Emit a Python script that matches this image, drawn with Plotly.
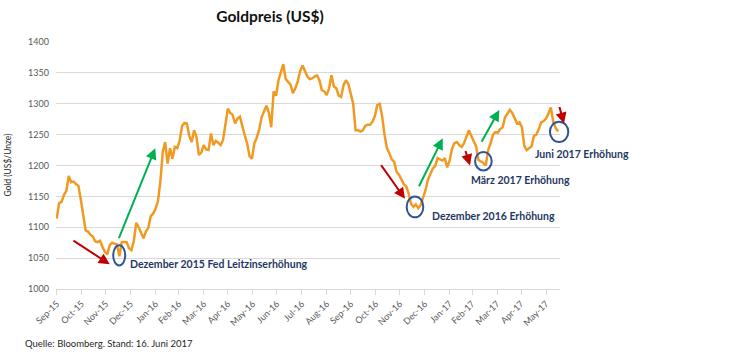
import pandas as pd
import plotly.graph_objects as go

# Gold price (US$/oz), sampled every 3 days from 1 Oct 2015 to 16 Jun 2017
start_date = "2015-10-01"
gold = [
    1114, 1139, 1141, 1152, 1159, 1183, 1173, 1174, 1170, 1167,
    1145, 1117, 1095, 1093, 1088, 1085, 1077, 1076, 1078, 1068,
    1060, 1056, 1071, 1075, 1073, 1072, 1053, 1076, 1076, 1076,
    1066, 1063, 1078, 1107, 1100, 1092, 1082, 1093, 1099, 1118,
    1122, 1130, 1142, 1174, 1222, 1238, 1203, 1228, 1211, 1230,
    1228, 1240, 1264, 1269, 1268, 1248, 1238, 1257, 1246, 1217,
    1221, 1233, 1226, 1225, 1252, 1233, 1240, 1237, 1233, 1241,
    1270, 1292, 1285, 1282, 1268, 1276, 1279, 1262, 1249, 1236,
    1215, 1211, 1236, 1245, 1258, 1278, 1287, 1297, 1286, 1262,
    1320, 1313, 1338, 1353, 1364, 1340, 1336, 1331, 1317, 1325,
    1336, 1353, 1362, 1352, 1344, 1340, 1341, 1344, 1346, 1338,
    1322, 1320, 1314, 1325, 1346, 1328, 1325, 1313, 1311, 1330,
    1338, 1332, 1316, 1300, 1257, 1257, 1255, 1257, 1264, 1266,
    1266, 1271, 1280, 1298, 1300, 1280, 1250, 1228, 1220, 1210,
    1206, 1190, 1185, 1176, 1170, 1166, 1155, 1138, 1133, 1137,
    1131, 1136, 1148, 1160, 1177, 1186, 1195, 1199, 1212, 1210,
    1208, 1212, 1197, 1208, 1227, 1236, 1238, 1233, 1230, 1236,
    1246, 1257, 1248, 1238, 1231, 1209, 1207, 1204, 1200, 1225,
    1236, 1250, 1254, 1253, 1259, 1262, 1278, 1285, 1290, 1285,
    1277, 1268, 1270, 1262, 1232, 1225, 1228, 1231, 1248, 1250,
    1259, 1270, 1272, 1276, 1284, 1294, 1271, 1261, 1255,
]
dates = pd.date_range(start_date, periods=len(gold), freq="3D")

tick_dates = [
    "2015-10-01", "2015-11-01", "2015-12-01", "2016-01-01", "2016-02-01",
    "2016-03-01", "2016-04-01", "2016-05-01", "2016-06-01", "2016-07-01",
    "2016-08-01", "2016-09-01", "2016-10-01", "2016-11-01", "2016-12-01",
    "2017-01-01", "2017-02-01", "2017-03-01", "2017-04-01", "2017-05-01",
    "2017-06-01",
]
tick_labels = [
    "Sep-15", "Oct-15", "Nov-15", "Dec-15", "Jan-16", "Feb-16", "Mar-16",
    "Apr-16", "May-16", "Jun-16", "Jul-16", "Aug-16", "Sep-16", "Oct-16",
    "Nov-16", "Dec-16", "Jan-17", "Feb-17", "Mar-17", "Apr-17", "May-17",
]
y_ticks = [1000, 1050, 1100, 1150, 1200, 1250, 1300, 1350, 1400]

FONT = "Lato"
RED = "#C00000"
GREEN = "#00B050"
BLUE = "#2F5597"
NAVY = "#1F3864"
GREY = "#595959"

fig = go.Figure()
fig.add_trace(go.Scatter(
    x=dates, y=gold, mode="lines",
    line=dict(color="#F09A22", width=2.5),
    hoverinfo="x+y", showlegend=False,
))

# arrows (head x,y ; tail ax,ay) in data coordinates
arrows = [
    ("2015-12-06", 1040, "2015-10-20", 1080, RED),
    ("2016-01-31 16:00", 1228, "2015-12-16 16:00", 1080, GREEN),
    ("2016-12-07 12:00", 1146, "2016-11-06 10:00", 1203, RED),
    ("2017-01-23 12:00", 1244, "2016-12-24", 1164, GREEN),
    ("2017-02-26 10:00", 1200, "2017-02-20 05:00", 1226, RED),
    ("2017-04-03 20:00", 1290, "2017-03-11 20:00", 1236, GREEN),
]
annotations = []
for hx, hy, tx, ty, col in arrows:
    annotations.append(dict(
        x=hx, y=hy, xref="x", yref="y", ax=tx, ay=ty, axref="x", ayref="y",
        text="", showarrow=True, arrowhead=2, arrowsize=1.1, arrowwidth=2,
        arrowcolor=col, standoff=0, startstandoff=0,
    ))
# June arrow (head beyond plot edge)
annotations.append(dict(
    x=1.008, y=1268, xref="paper", yref="y", ax=-5, ay=-18, axref="pixel", ayref="pixel",
    text="", showarrow=True, arrowhead=2, arrowsize=1.1, arrowwidth=2,
    arrowcolor=RED, standoff=0,
))

labels = [
    ("2015-12-29", 1041, "Dezember 2015 Fed Leitzinserhöhung"),
    ("2017-01-07 16:00", 1119, "Dezember 2016 Erhöhung"),
    ("2017-02-25 14:00", 1176, "März 2017 Erhöhung"),
    ("2017-05-15 12:00", 1218, "Juni 2017 Erhöhung"),
]
for lx, ly, txt in labels:
    annotations.append(dict(
        x=lx, y=ly, xref="x", yref="y", text="<b>%s</b>" % txt, showarrow=False,
        xanchor="left", yanchor="middle",
        font=dict(family=FONT, size=10.5, color=NAVY),
    ))

annotations.append(dict(
    x=-0.097, y=0.5, xref="paper", yref="paper", text="Gold (US$/Unze)",
    textangle=-90, showarrow=False, xanchor="center", yanchor="middle",
    font=dict(family=FONT, size=8.5, color="#262626"),
))
annotations.append(dict(
    x=-0.066, y=-0.219, xref="paper", yref="paper",
    text="Quelle: Bloomberg. Stand: 16. Juni 2017",
    showarrow=False, xanchor="left", yanchor="middle",
    font=dict(family=FONT, size=9.5, color="#262626"),
))

shapes = [
    dict(type="circle", xref="x", yref="y", x0="2015-12-10 07:00", x1="2015-12-25 07:00",
         y0=1038, y1=1071, line=dict(color=BLUE, width=2)),
    dict(type="circle", xref="x", yref="y", x0="2016-12-09 14:00", x1="2016-12-30 07:00",
         y0=1116, y1=1150, line=dict(color=BLUE, width=2)),
    dict(type="circle", xref="x", yref="y", x0="2017-03-04 17:00", x1="2017-03-25 10:00",
         y0=1192, y1=1222, line=dict(color=BLUE, width=2)),
    dict(type="circle", xref="paper", yref="y", x0=0.980, x1=1.0165,
         y0=1238, y1=1271, line=dict(color=BLUE, width=2)),
]

fig.update_layout(
    width=738, height=355,
    margin=dict(l=56, r=178, t=42, b=66),
    paper_bgcolor="white", plot_bgcolor="white",
    font=dict(family=FONT, color=GREY),
    title=dict(text="<b>Goldpreis (US$)</b>", x=270 / 738, xanchor="center",
               y=1 - 17 / 355, yanchor="middle",
               font=dict(family=FONT, size=15.5, color="#111111")),
    annotations=annotations,
    shapes=shapes,
    showlegend=False,
)
fig.update_xaxes(
    type="date", range=["2015-09-30 03:00", "2017-06-18 10:00"],
    tickmode="array", tickvals=tick_dates, ticktext=tick_labels,
    tickangle=-45, tickfont=dict(family=FONT, size=9, color=GREY),
    showgrid=False, showline=True, linecolor="#D9D9D9", linewidth=1,
    ticks="outside", ticklen=5, tickcolor="#D9D9D9", zeroline=False,
)
fig.update_yaxes(
    range=[1000, 1400], tickmode="array", tickvals=y_ticks,
    tickfont=dict(family=FONT, size=9, color=GREY),
    showgrid=True, gridcolor="#D9D9D9", gridwidth=1, zeroline=False,
    showline=False, ticklabelstandoff=6,
)

fig.write_html(
    "out.html",
    config={"displayModeBar": False},
    post_script="document.body.style.margin='0';document.body.style.overflow='hidden';",
)
